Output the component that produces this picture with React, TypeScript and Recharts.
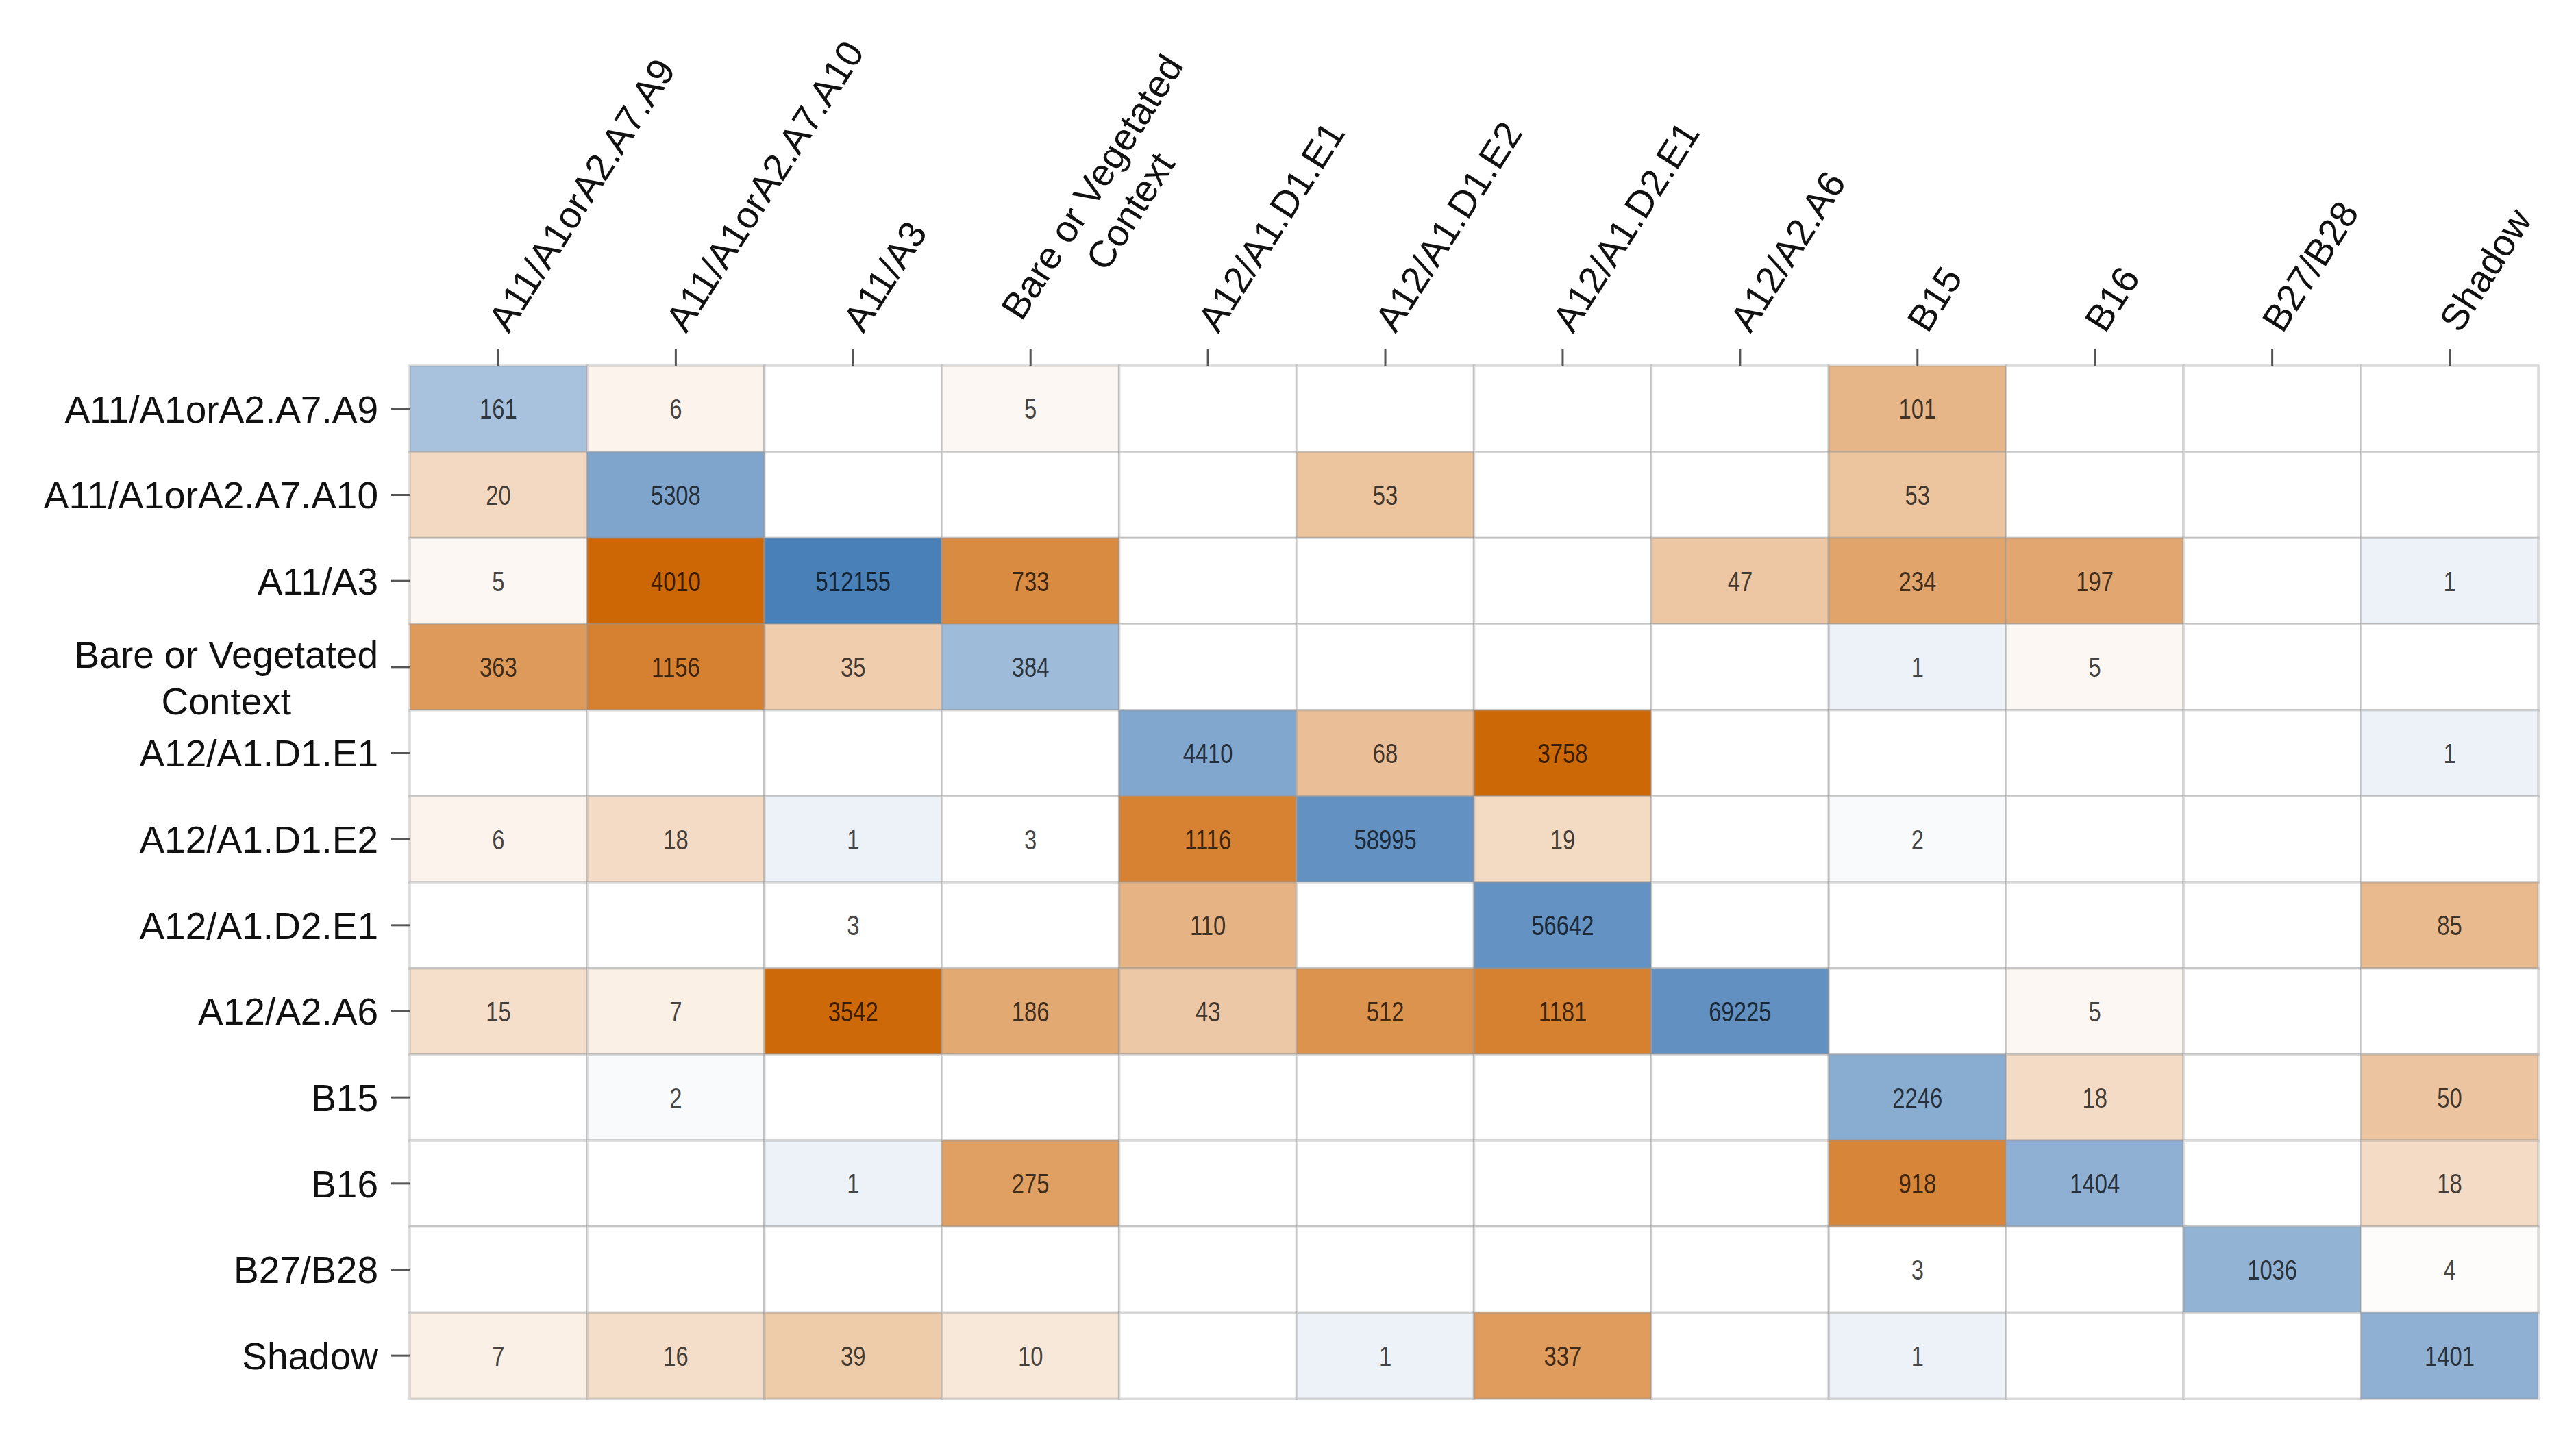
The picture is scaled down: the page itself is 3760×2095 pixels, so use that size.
import React from 'react';
import { BarChart, Bar, XAxis, YAxis, Cell, LabelList } from 'recharts';

const columns = [
  'A11/A1orA2.A7.A9',
  'A11/A1orA2.A7.A10',
  'A11/A3',
  'Bare or Vegetated\nContext',
  'A12/A1.D1.E1',
  'A12/A1.D1.E2',
  'A12/A1.D2.E1',
  'A12/A2.A6',
  'B15',
  'B16',
  'B27/B28',
  'Shadow',
];

const rows = [
  'A11/A1orA2.A7.A9',
  'A11/A1orA2.A7.A10',
  'A11/A3',
  'Bare or Vegetated\nContext',
  'A12/A1.D1.E1',
  'A12/A1.D1.E2',
  'A12/A1.D2.E1',
  'A12/A2.A6',
  'B15',
  'B16',
  'B27/B28',
  'Shadow',
];

// one array per row, one entry per column (null = empty cell)
const rowA9 = [161, 6, null, 5, null, null, null, null, 101, null, null, null];
const rowA10 = [20, 5308, null, null, null, 53, null, null, 53, null, null, null];
const rowA3 = [5, 4010, 512155, 733, null, null, null, 47, 234, 197, null, 1];
const rowBare = [363, 1156, 35, 384, null, null, null, null, 1, 5, null, null];
const rowD1E1 = [null, null, null, null, 4410, 68, 3758, null, null, null, null, 1];
const rowD1E2 = [6, 18, 1, 3, 1116, 58995, 19, null, 2, null, null, null];
const rowD2E1 = [null, null, 3, null, 110, null, 56642, null, null, null, null, 85];
const rowA6 = [15, 7, 3542, 186, 43, 512, 1181, 69225, null, 5, null, null];
const rowB15 = [null, 2, null, null, null, null, null, null, 2246, 18, null, 50];
const rowB16 = [null, null, 1, 275, null, null, null, null, 918, 1404, null, 18];
const rowB27 = [null, null, null, null, null, null, null, null, 3, null, 1036, 4];
const rowShadow = [7, 16, 39, 10, null, 1, 337, null, 1, null, null, 1401];

const counts: (number | null)[][] = [
  rowA9, rowA10, rowA3, rowBare, rowD1E1, rowD1E2, rowD2E1, rowA6, rowB15, rowB16, rowB27, rowShadow,
];

const SANS = "'Liberation Sans', Arial, Helvetica, sans-serif";
const GRID = 'rgba(150,150,150,0.36)';
const TICK = '#555';
const ANGLE = -57.6;

const ORANGE = [204, 99, 0];
const BLUE = [74, 128, 184];

const mix = (rgb: number[], m: number) => {
  const t = Math.max(0, Math.min(1, m));
  const c = rgb.map((v) => Math.round(255 - (255 - v) * t));
  return `rgb(${c[0]},${c[1]},${c[2]})`;
};

const cellColor = (v: number | null, diag: boolean) => {
  if (v == null) return '#ffffff';
  if (diag) return mix(BLUE, 0.155 + 0.148 * Math.log10(v));
  if (v >= 3) return mix(ORANGE, Math.log(v / 3) / Math.log(4010 / 3) - 0.02);
  return mix(BLUE, (Math.log(3 / v) / Math.log(3)) * 0.1);
};

let ctx: CanvasRenderingContext2D | null = null;
const textWidth = (s: string, font: string) => {
  if (!ctx) ctx = document.createElement('canvas').getContext('2d');
  if (!ctx) return s.length * 30;
  ctx.font = font;
  return ctx.measureText(s).width;
};

const tableData = rows.map((name, i) => {
  const d: Record<string, any> = { name };
  columns.forEach((_, j) => {
    d[`w${j}`] = 1;
    d[`v${j}`] = counts[i][j];
  });
  return d;
});

const RowTick = (props: any) => {
  const { x, y, payload } = props;
  const lines = String(payload.value).split('\n');
  const fs = 55;
  if (lines.length === 1) {
    return (
      <text x={x} y={y} dy="0.36em" textAnchor="end" fontSize={fs} fontFamily={SANS} fill="#111">
        {lines[0]}
      </text>
    );
  }
  const w1 = textWidth(lines[0], `${fs}px ${SANS}`);
  return (
    <g>
      <text x={x} y={y + 1} textAnchor="end" fontSize={fs} fontFamily={SANS} fill="#111">
        {lines[0]}
      </text>
      <text x={x - w1 / 2} y={y + 69} textAnchor="middle" fontSize={fs} fontFamily={SANS} fill="#111">
        {lines[1]}
      </text>
    </g>
  );
};

const ColumnTick = (props: any) => {
  const { x, y, payload } = props;
  const label = columns[Math.floor(payload.value)] ?? '';
  const lines = label.split('\n');
  const fs = 55;
  const lh = 66;
  const w1 = textWidth(lines[0], `${fs}px ${SANS}`);
  return (
    <g transform={`translate(${x + 15},${y - 13}) rotate(${ANGLE})`}>
      {lines.map((ln, k) => {
        const off = (k - (lines.length - 1) / 2) * lh;
        return k === 0 ? (
          <text key={k} x={0} y={off} textAnchor="start" fontSize={fs} fontFamily={SANS} fill="#111">
            {ln}
          </text>
        ) : (
          <text key={k} x={w1 / 2} y={off} textAnchor="middle" fontSize={fs} fontFamily={SANS} fill="#111">
            {ln}
          </text>
        );
      })}
    </g>
  );
};

const CellLabel = (props: any) => {
  const { value } = props;
  if (value == null || value === '') return null;
  const vb = props.viewBox && props.viewBox.width != null ? props.viewBox : props;
  const { x, y, width, height } = vb;
  // narrow look of the original number font
  return (
    <g transform={`translate(${x + width / 2},${y + height / 2}) scale(0.82,1)`}>
      <text
        x={0}
        y={0}
        dy="0.36em"
        textAnchor="middle"
        fontSize={40}
        fontFamily={SANS}
        fill="#000"
        fillOpacity={0.74}
      >
        {value}
      </text>
    </g>
  );
};

export default function App() {
  return (
    <div style={{ width: 3744, height: 2070, background: '#fff' }}>
      <BarChart
        width={3744}
        height={2070}
        data={tableData}
        layout="vertical"
        barCategoryGap={0}
        barGap={0}
        margin={{ top: 0, right: 47, bottom: 36, left: 0 }}
      >
        <XAxis
          type="number"
          orientation="top"
          domain={[0, columns.length]}
          ticks={columns.map((_, j) => j + 0.5)}
          interval={0}
          height={526}
          tickSize={25}
          tickMargin={8}
          axisLine={false}
          tickLine={{ stroke: TICK, strokeWidth: 3 }}
          tick={<ColumnTick />}
        />
        <YAxis
          type="category"
          dataKey="name"
          width={590}
          interval={0}
          tickSize={27}
          tickMargin={19}
          axisLine={false}
          tickLine={{ stroke: TICK, strokeWidth: 3 }}
          tick={<RowTick />}
        />
        {columns.map((_, j) => (
          <Bar key={j} dataKey={`w${j}`} stackId="grid" isAnimationActive={false}>
            {tableData.map((_, i) => (
              <Cell key={i} fill={cellColor(counts[i][j], i === j)} stroke={GRID} strokeWidth={3.5} />
            ))}
            <LabelList dataKey={`v${j}`} content={CellLabel} />
          </Bar>
        ))}
      </BarChart>
    </div>
  );
}
